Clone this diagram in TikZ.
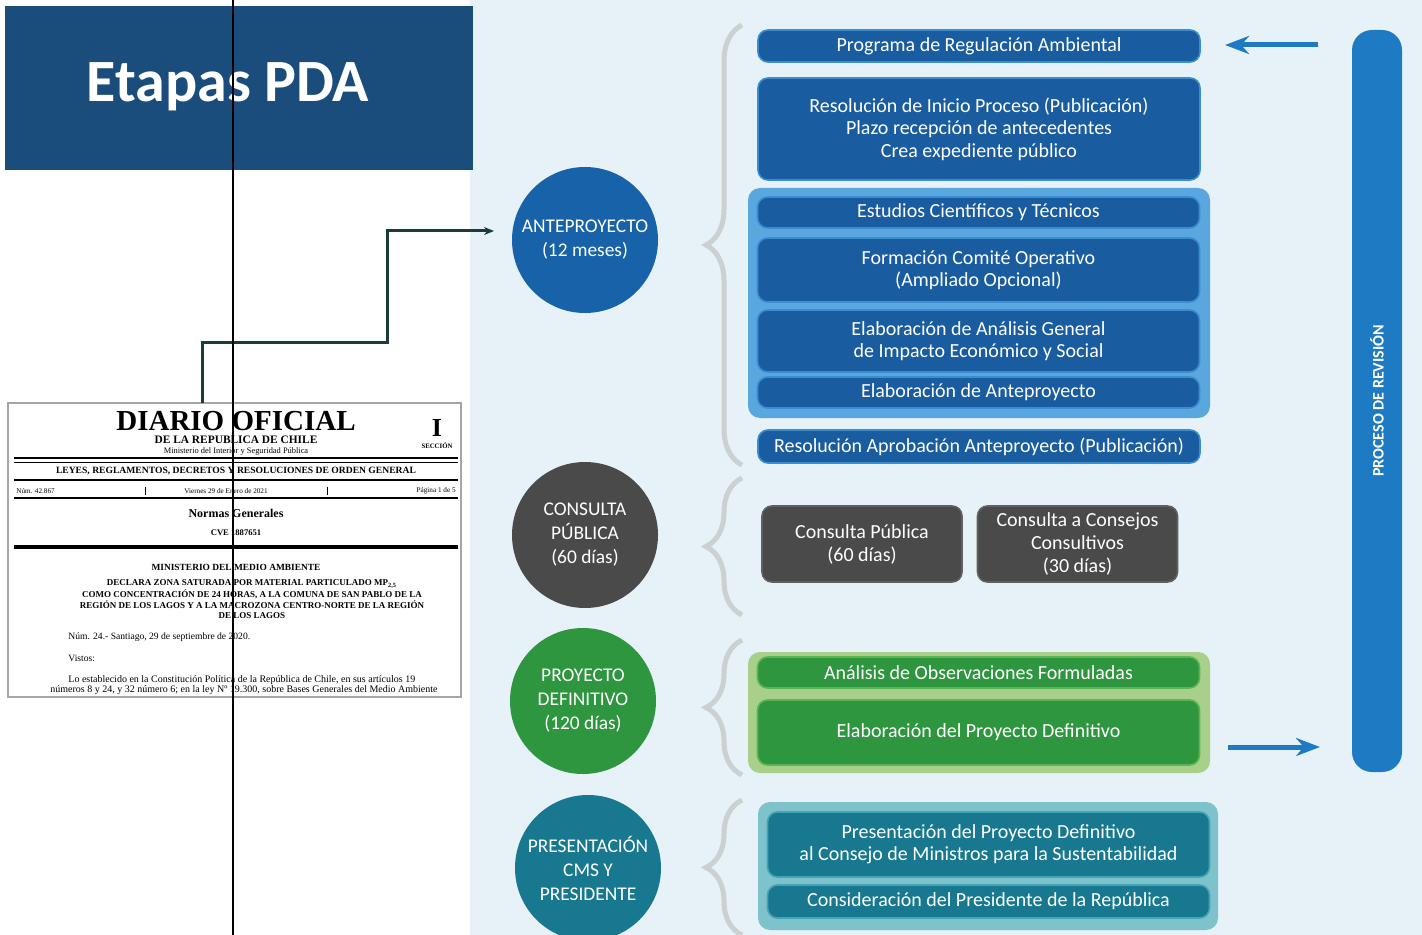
\documentclass[tikz,border=0pt]{standalone}
\usepackage{fontspec}
\setmainfont{Carlito}
\newfontfamily\diariofont{Liberation Serif}
\usepackage{xcolor}
\usepackage{tikz}
\usetikzlibrary{arrows.meta,decorations.pathreplacing}

\definecolor{titleblue}{HTML}{1A4C7C}
\definecolor{rightbg}{HTML}{E6F2F8}
\definecolor{bracegray}{HTML}{CBD0D1}
\definecolor{linkgreen}{HTML}{1B3D3A}
\definecolor{antblue}{HTML}{1762A8}
\definecolor{boxblue}{HTML}{195CA0}
\definecolor{boxedge}{HTML}{3A8ED0}
\definecolor{groupblue}{HTML}{5AA6DE}
\definecolor{consgray}{HTML}{4A4A4A}
\definecolor{grayedge}{HTML}{606060}
\definecolor{defgreen}{HTML}{2E963F}
\definecolor{greenedge}{HTML}{5CB552}
\definecolor{groupgreen}{HTML}{A9D08A}
\definecolor{presteal}{HTML}{17788F}
\definecolor{tealedge}{HTML}{45A3B6}
\definecolor{groupteal}{HTML}{7EC2CB}
\definecolor{revblue}{HTML}{1E7BC3}

\begin{document}
\begin{tikzpicture}[x=0.5pt, y=-0.5pt,
  every node/.style={inner sep=0pt, text=white, align=center},
  stage/.style={circle, minimum size=73pt, font=\fontsize{9.7}{12}\selectfont},
  box/.style={rounded corners=5pt, minimum width=221pt, line width=0.8pt, font=\fontsize{10}{11.2}\selectfont},
  bluebox/.style={box, fill=boxblue, draw=boxedge},
  graybox/.style={box, minimum width=100pt, minimum height=38pt, fill=consgray, draw=grayedge, font=\fontsize{10}{11.5}\selectfont},
  greenbox/.style={box, fill=defgreen, draw=greenedge},
  tealbox/.style={box, fill=presteal, draw=tealedge},
  brace/.style={decorate, decoration={brace, amplitude=18pt}, draw=bracegray, line width=2.5pt},
  revarrow/.style={draw=revblue, line width=2.5pt, -{Stealth[length=12pt, width=9pt]}},
  link/.style={draw=linkgreen, line width=1.5pt, -{Stealth[length=5pt, width=4pt]}},
  paper/.style={text=black, font=\diariofont\fontsize{#1}{#1}\selectfont},
  paperbf/.style={text=black, font=\diariofont\bfseries\fontsize{#1}{#1}\selectfont}]

  \useasboundingbox (0,0) rectangle (1422,935);
  \fill[white] (0,0) rectangle (470,935);
  \fill[rightbg] (470,0) rectangle (1422,935);

  \fill[titleblue] (5,6) rectangle (473,170);
  \node[font=\bfseries\fontsize{30}{36}\selectfont] (title) at (228,87) {Etapas PDA};

  % diario oficial
  \node[draw=black!35, line width=0.6pt, fill=white, minimum width=226.5pt, minimum height=147pt] (diario) at (234.5,550) {};
  \node[paperbf=14.5] at (236,421) {DIARIO OFICIAL};
  \node[paperbf=5.7] at (236,440) {DE LA REPUBLICA DE CHILE};
  \node[paper=4.2] at (236,451) {Ministerio del Interior y Seguridad Pública};
  \node[paperbf=13] at (437,428) {I};
  \node[paperbf=3.4] at (437,446) {SECCIÓN};
  \draw[line width=1pt] (14,458) -- (458,458);
  \draw[line width=0.4pt] (14,462) -- (458,462);
  \node[paperbf=4.8] at (236,471) {LEYES, REGLAMENTOS, DECRETOS Y RESOLUCIONES DE ORDEN GENERAL};
  \draw[line width=0.6pt] (14,480) -- (458,480);
  \node[paper=3.6, anchor=west] at (16,491) {Núm. 42.867};
  \node[paper=3.6] at (226,491) {Viernes 29 de Enero de 2021};
  \node[paper=3.6, anchor=east] at (456,491) {Página 1 de 5};
  \draw[line width=0.3pt] (145,487) -- (145,495) (327,487) -- (327,495);
  \draw[line width=0.6pt] (14,498) -- (458,498);
  \node[paperbf=6] at (236,513) {Normas Generales};
  \node[paperbf=4.3] at (236,533) {CVE 1887651};
  \draw[line width=1.6pt] (14,547) -- (458,547);
  \node[paperbf=4.7] at (236,567) {MINISTERIO DEL MEDIO AMBIENTE};
  \node[text=black, font=\diariofont\bfseries\fontsize{4.5}{5.2}\selectfont] at (252,599) {DECLARA ZONA SATURADA POR MATERIAL PARTICULADO MP\textsubscript{2,5}\\
    COMO CONCENTRACIÓN DE 24 HORAS, A LA COMUNA DE SAN PABLO DE LA\\
    REGIÓN DE LOS LAGOS Y A LA MACROZONA CENTRO-NORTE DE LA REGIÓN\\
    DE LOS LAGOS};
  \node[paper=4.8, anchor=west] at (68,637) {Núm. 24.- Santiago, 29 de septiembre de 2020.};
  \node[paper=4.8, anchor=west] at (68,658) {Vistos:};
  \node[paper=5, anchor=west] at (68,680) {Lo establecido en la Constitución Política de la República de Chile, en sus artículos 19};
  \node[paper=5, anchor=west] at (50,690) {números 8 y 24, y 32 número 6; en la ley Nº 19.300, sobre Bases Generales del Medio Ambiente};

  % etapas
  \node[stage, fill=antblue] (ante) at (585,240) {ANTEPROYECTO\\(12 meses)};
  \node[stage, fill=consgray] (consulta) at (585,535) {CONSULTA\\PÚBLICA\\(60 días)};
  \node[stage, fill=defgreen] (definitivo) at (583,701) {PROYECTO\\DEFINITIVO\\(120 días)};
  \node[stage, fill=presteal] (presenta) at (588,868) {PRESENTACIÓN\\CMS Y\\PRESIDENTE};

  \coordinate (linkstart) at (202,403);
  \coordinate (linkend) at (494,231);
  \draw[link] (linkstart) |- (387,342) |- (linkend);

  \draw[brace] (742,465) -- (742,25);
  \draw[brace] (742,615) -- (742,478);
  \draw[brace] (742,775) -- (742,640);
  \draw[brace] (742,935) -- (742,800);

  \fill[groupblue, rounded corners=6pt] (748,188) rectangle (1210,418);
  \fill[groupgreen, rounded corners=6pt] (748,652) rectangle (1210,773);
  \fill[groupteal, rounded corners=6pt] (758,802) rectangle (1218,930);

  \node[bluebox, minimum height=16pt] (prog) at (979,46) {Programa de Regulación Ambiental};
  \node[bluebox, minimum height=51pt] (inicio) at (979,129) {Resolución de Inicio Proceso (Publicación)\\Plazo recepción de antecedentes\\Crea expediente público};
  \node[bluebox, minimum height=15.5pt] (estudios) at (978.5,212.5) {Estudios Científicos y Técnicos};
  \node[bluebox, minimum height=32pt] (comite) at (978.5,270) {Formación Comité Operativo\\(Ampliado Opcional)};
  \node[bluebox, minimum height=31pt] (impacto) at (978.5,341) {Elaboración de Análisis General\\de Impacto Económico y Social};
  \node[bluebox, minimum height=15.5pt] (elabante) at (978.5,392.5) {Elaboración de Anteproyecto};
  \node[bluebox, minimum height=16.5pt] (aprob) at (979,446.5) {Resolución Aprobación Anteproyecto (Publicación)};

  \node[graybox] (conspub) at (862,544) {Consulta Pública\\(60 días)};
  \node[graybox] (consejos) at (1077.5,544) {Consulta a Consejos\\Consultivos\\(30 días)};

  \node[greenbox, minimum height=15.5pt] (observ) at (978.5,672.5) {Análisis de Observaciones Formuladas};
  \node[greenbox, minimum height=32.5pt] (elabdef) at (978.5,732.5) {Elaboración del Proyecto Definitivo};

  \node[tealbox, minimum height=32.5pt] (consejo) at (988.5,844.5) {Presentación del Proyecto Definitivo\\al Consejo de Ministros para la Sustentabilidad};
  \node[tealbox, minimum height=16.5pt] (presidente) at (988.5,901.5) {Consideración del Presidente de la República};

  \node[fill=revblue, rounded corners=10pt, minimum width=25pt, minimum height=371pt] (revision) at (1377,401) {};
  \node[rotate=90, font=\bfseries\fontsize{8}{9}\selectfont] at (revision) {PROCESO DE REVISIÓN};

  \coordinate (revtop) at (1318,45);
  \coordinate (progin) at (1225,45);
  \coordinate (defout) at (1228,747);
  \coordinate (revin) at (1320,747);
  \draw[revarrow] (revtop) -- (progin);
  \draw[revarrow] (defout) -- (revin);

  \draw[line width=0.8pt] (233,0) -- (233,935);
\end{tikzpicture}
\end{document}
